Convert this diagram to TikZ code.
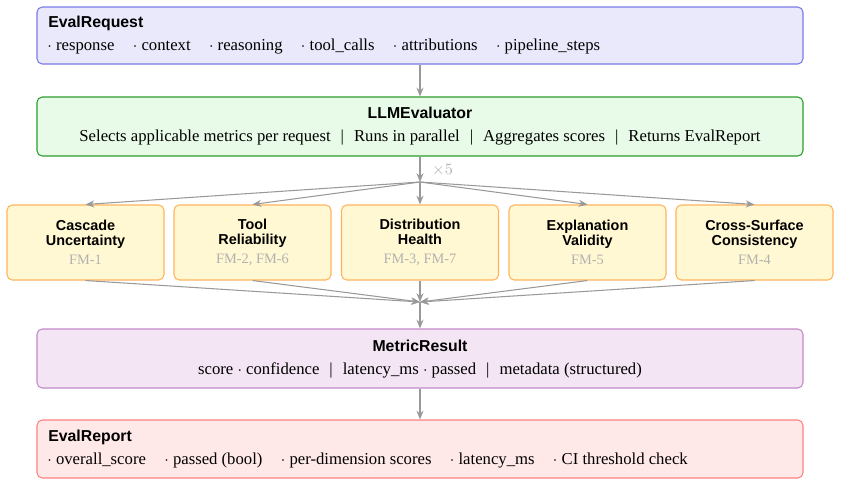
\documentclass[tikz,border=0pt]{standalone}
\usepackage{fontspec}
\setmainfont{Liberation Serif}
\setsansfont{Liberation Sans}
\usepackage{xcolor}
\usepackage{tikz}
\usetikzlibrary{arrows.meta, positioning, calc}

\definecolor{reqfill}{HTML}{E9E9FB}
\definecolor{reqdraw}{HTML}{7A7AE6}
\definecolor{llmfill}{HTML}{E8FBE8}
\definecolor{llmdraw}{HTML}{2E9B2E}
\definecolor{metfill}{HTML}{FFF8D2}
\definecolor{metdraw}{HTML}{FFB35C}
\definecolor{resfill}{HTML}{F3E5F3}
\definecolor{resdraw}{HTML}{C389C8}
\definecolor{repfill}{HTML}{FFE8E8}
\definecolor{repdraw}{HTML}{FF8080}

\newcommand{\sep}{\hspace{0.6em}\textbar\hspace{0.6em}}
\newcommand{\itm}{\hspace{1.1em}$\cdot$ }

\begin{document}
\begin{tikzpicture}[
    every node/.style={align=center, font=\fontsize{9.5}{11}\selectfont},
    panel/.style={draw, rounded corners=3pt, line width=0.6pt, minimum width=15.32cm, inner sep=0pt},
    title/.style={inner sep=0pt, font=\fontsize{9}{11}\selectfont\sffamily\bfseries},
    body/.style={inner sep=0pt},
    metric/.style={draw=metdraw, fill=metfill, rounded corners=3pt, line width=0.6pt,
        minimum width=3.14cm, minimum height=1.5cm, inner sep=0pt,
        font=\fontsize{8.2}{8.6}\selectfont\sffamily\bfseries},
    arrow/.style={-{Stealth[length=5pt, width=4pt]}, line width=0.6pt, gray!80}
]
    \useasboundingbox (0,0) rectangle (16.82,-9.72);

    % Request
    \node[panel, draw=reqdraw, fill=reqfill, minimum height=1.14cm] (req) at (8.4,-0.71) {};
    \node[title, anchor=west] (reqtitle) at (0.96,-0.46) {EvalRequest};
    \node[body, anchor=west] (reqbody) at (0.94,-0.94)
        {$\cdot$ response\itm context\itm reasoning\itm tool\_calls\itm attributions\itm pipeline\_steps};

    % Evaluator
    \node[panel, draw=llmdraw, fill=llmfill, minimum height=1.18cm] (llm) at (8.4,-2.53) {};
    \node[title] (llmtitle) at (8.4,-2.26) {LLMEvaluator};
    \node[body] (llmbody) at (8.4,-2.76)
        {Selects applicable metrics per request\sep Runs in parallel\sep Aggregates scores\sep Returns EvalReport};

    % Metrics
    \foreach \n/\x/\t/\f in {casc/1.71/{Cascade\\Uncertainty}/{FM-1},
                             tool/5.05/{Tool\\Reliability}/{FM-2, FM-6},
                             dist/8.4/{Distribution\\Health}/{FM-3, FM-7},
                             expl/11.75/{Explanation\\Validity}/{FM-5},
                             cross/15.09/{Cross-Surface\\Consistency}/{FM-4}} {
        \node[metric] (\n) at (\x,-4.85)
            {\t\\[2.2pt]\textcolor{gray!60}{\fontsize{8.2}{9}\selectfont\rmfamily\mdseries \f}};
    }

    % Result
    \node[panel, draw=resdraw, fill=resfill, minimum height=1.18cm] (res) at (8.4,-7.17) {};
    \node[title] (restitle) at (8.4,-6.92) {MetricResult};
    \node[body] (resbody) at (8.4,-7.4)
        {score $\cdot$ confidence\sep latency\_ms $\cdot$ passed\sep metadata (structured)};

    % Report
    \node[panel, draw=repdraw, fill=repfill, minimum height=1.16cm] (rep) at (8.4,-8.98) {};
    \node[title, anchor=west] (reptitle) at (0.96,-8.74) {EvalReport};
    \node[body, anchor=west] (repbody) at (0.94,-9.22)
        {$\cdot$ overall\_score\itm passed (bool)\itm per-dimension scores\itm latency\_ms\itm CI threshold check};

    % Fan out / fan in
    \coordinate (fan) at (8.4,-3.64);
    \coordinate (merge) at (8.4,-6.04);
    \node[gray!60] (times) at (8.85,-3.4) {$\times 5$};

    \draw[arrow] (req) -- (llm);
    \draw[arrow] (llm) -- (fan);
    \foreach \n in {casc, tool, dist, expl, cross} {
        \draw[arrow] (fan) -- (\n.north);
        \draw[arrow] (\n.south) -- (merge);
    }
    \draw[arrow] (merge) -- (res);
    \draw[arrow] (res) -- (rep);
\end{tikzpicture}
\end{document}
